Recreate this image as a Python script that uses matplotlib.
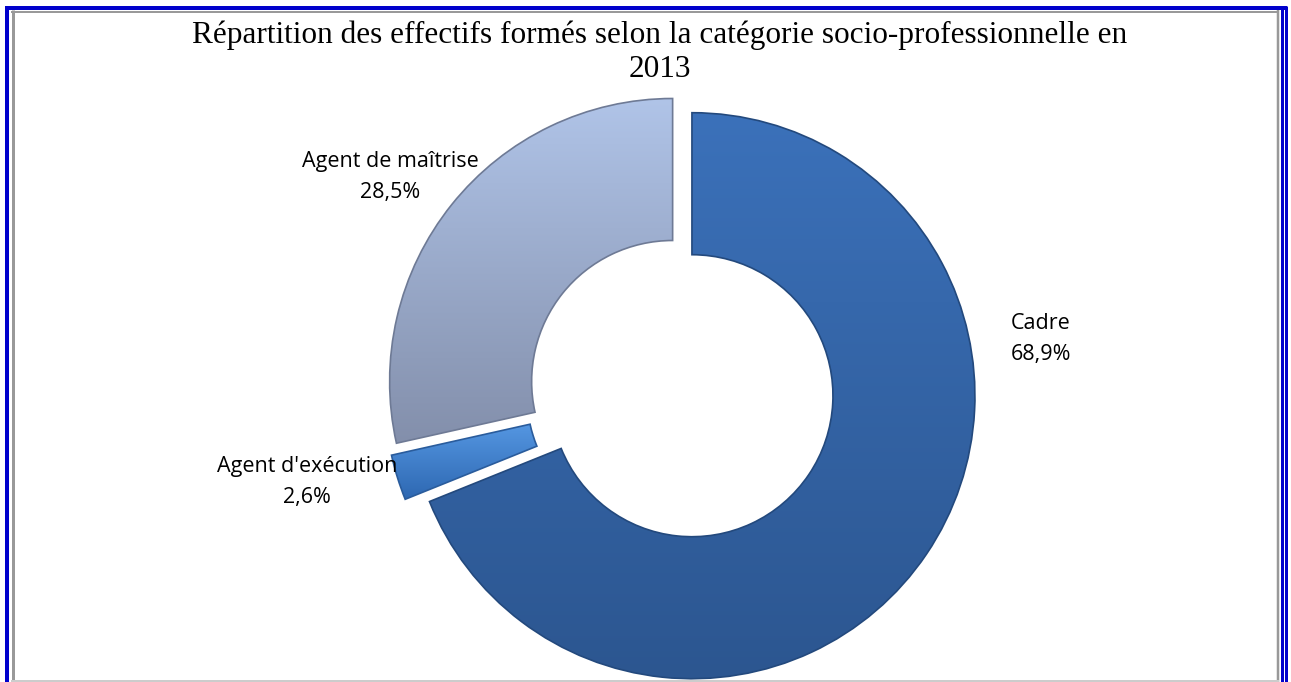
import matplotlib
matplotlib.use('Agg')
import matplotlib.pyplot as plt
import matplotlib.colors as mcolors
import numpy as np
from matplotlib.lines import Line2D

# data
categories = ['Cadre', "Agent d'exécution", 'Agent de maîtrise']
shares = [68.9, 2.6, 28.5]
labels = ['68,9%', '2,6%', '28,5%']
label_pos = [(1041, 339), (307, 482), (390, 177)]   # image pixel coords

# styles: gradient top / bottom colours and edge colour per slice
top_cols = ['#3b71ba', '#5597e2', '#b0c4e8']
bot_cols = ['#2c5690', '#2e68b2', '#838fab']
edge_cols = ['#23497d', '#2a5c9c', '#6e7a95']

W, H = 1291, 682
fig = plt.figure(figsize=(W / 100, H / 100), dpi=100)
ax = fig.add_axes([0, 0, 1, 1])
ax.axis('off')


def fig_line(xs, ys, color, px):
    # xs, ys in image pixels (y from top)
    fig.lines.append(Line2D([x / W for x in xs], [1 - y / H for y in ys],
                            transform=fig.transFigure, color=color, lw=px * 0.72,
                            solid_capstyle='butt'))


# frame
fig_line([7, 7], [6, H], '#0000cc', 4)
fig_line([5, 1287], [8, 8], '#0000cc', 4)
fig_line([1281.5, 1281.5], [6, H], '#0000cc', 3)
fig_line([1285.5, 1285.5], [6, H], '#0000cc', 3)
fig_line([12.5, 12.5], [10, H], '#999999', 3)
fig_line([11, 1279], [11.5, 11.5], '#999999', 2)
fig_line([1278, 1278], [10, H], '#999999', 2.5)
fig_line([11, 1279], [681, 681], '#cccccc', 2)

cx, cy = 682, H - 389
R, r = 283, 141
wedges, _ = ax.pie(shares, colors=top_cols, startangle=90, counterclock=False,
                   center=(cx, cy), radius=R, explode=[12, 15, 12],
                   wedgeprops=dict(width=R - r, linewidth=1.2))

for w, c0, c1, ec in zip(wedges, top_cols, bot_cols, edge_cols):
    ext = w.get_path().get_extents()
    a = np.array(mcolors.to_rgb(c0))
    b = np.array(mcolors.to_rgb(c1))
    t = np.linspace(0, 1, 256)[:, None, None]
    grad = a * (1 - t) + b * t
    im = ax.imshow(grad, extent=[ext.x0, ext.x1, ext.y0, ext.y1], origin='upper',
                   aspect='auto', zorder=1, interpolation='bilinear')
    im.set_clip_path(w)
    w.set_facecolor('none')
    w.set_edgecolor(ec)
    w.set_zorder(2)

ax.set_aspect('equal')
ax.set_xlim(0, W)
ax.set_ylim(0, H)

for name, lab, (x, y) in zip(categories, labels, label_pos):
    ax.text(x, H - y, name + '\n' + lab, ha='center', va='center',
            fontsize=15.5, family='Open Sans', linespacing=1.6)

ax.text(660, H - 52, 'Répartition des effectifs formés selon la catégorie socio-professionnelle en\n2013',
        ha='center', va='center', fontsize=22.5, family='Liberation Serif', linespacing=1.22)

fig.savefig('out.png', dpi=100)
